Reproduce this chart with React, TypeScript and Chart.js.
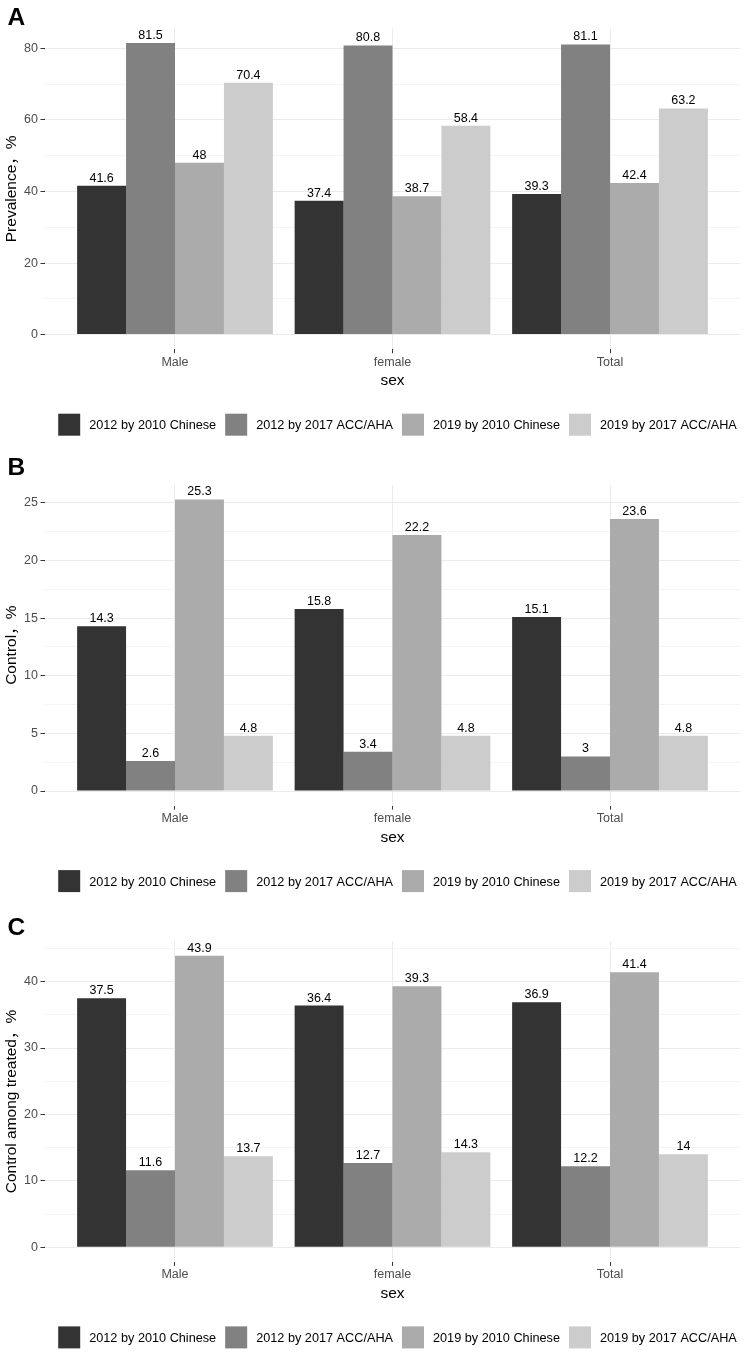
import React, { useEffect, useRef } from 'react';
import { Chart, registerables } from 'chart.js';

Chart.register(...registerables);

// ---------- data ----------
const categories = ['Male', 'female', 'Total'];
const seriesLabels = [
  '2012 by 2010 Chinese',
  '2012 by 2017 ACC/AHA',
  '2019 by 2010 Chinese',
  '2019 by 2017 ACC/AHA',
];

// Panel A: Prevalence
const prevalence2012Chinese = [41.6, 37.4, 39.3];
const prevalence2012AccAha = [81.5, 80.8, 81.1];
const prevalence2019Chinese = [48, 38.7, 42.4];
const prevalence2019AccAha = [70.4, 58.4, 63.2];
const prevalenceTicks = [0, 20, 40, 60, 80];

// Panel B: Control
const control2012Chinese = [14.3, 15.8, 15.1];
const control2012AccAha = [2.6, 3.4, 3];
const control2019Chinese = [25.3, 22.2, 23.6];
const control2019AccAha = [4.8, 4.8, 4.8];
const controlTicks = [0, 5, 10, 15, 20, 25];

// Panel C: Control among treated
const treated2012Chinese = [37.5, 36.4, 36.9];
const treated2012AccAha = [11.6, 12.7, 12.2];
const treated2019Chinese = [43.9, 39.3, 41.4];
const treated2019AccAha = [13.7, 14.3, 14];
const treatedTicks = [0, 10, 20, 30, 40];

const panels = [
  {
    letter: 'A',
    yTitle: 'Prevalence，%',
    series: [prevalence2012Chinese, prevalence2012AccAha, prevalence2019Chinese, prevalence2019AccAha],
    ticks: prevalenceTicks,
  },
  {
    letter: 'B',
    yTitle: 'Control，%',
    series: [control2012Chinese, control2012AccAha, control2019Chinese, control2019AccAha],
    ticks: controlTicks,
  },
  {
    letter: 'C',
    yTitle: 'Control among treated，%',
    series: [treated2012Chinese, treated2012AccAha, treated2019Chinese, treated2019AccAha],
    ticks: treatedTicks,
  },
];

// ---------- styling / layout ----------
const COLORS = ['#333333', '#818181', '#ABABAB', '#CCCCCC'];
const FAMILY = "'Liberation Sans', Arial, Helvetica, sans-serif";
const TITLE_FAMILY = "'Liberation Sans', Arial, 'Noto Sans CJK SC', sans-serif";
const CANVAS_H = 440;
const PLOT_H = 320.8;
const X_AXIS_H = 42;
const layouts = [
  { canvasTop: 0, padTop: 28.4, letterBaseline: 25 },
  { canvasTop: 457, padTop: 27.8, letterBaseline: 18 },
  { canvasTop: 913, padTop: 28.1, letterBaseline: 22 },
];

function Panel({ cfg, layout }: { cfg: any; layout: any }) {
  const ref = useRef<HTMLCanvasElement>(null);

  useEffect(() => {
    if (!ref.current) return;
    const all: number[] = ([] as number[]).concat(...cfg.series);
    const maxVal = Math.max(...all);
    const yMin = -0.05 * maxVal;
    const yMax = 1.05 * maxVal;
    const major = cfg.ticks[1] - cfg.ticks[0];
    const minor = major / 2;
    const isMajor = (v: number) => Math.abs(v / major - Math.round(v / major)) < 1e-6;

    const overlay = {
      id: 'overlay' + cfg.letter,
      afterDatasetsDraw(chart: any) {
        const ctx = chart.ctx;
        ctx.save();
        ctx.font = `12.5px ${FAMILY}`;
        ctx.fillStyle = '#000000';
        ctx.textAlign = 'center';
        ctx.textBaseline = 'alphabetic';
        chart.data.datasets.forEach((ds: any, di: number) => {
          const meta = chart.getDatasetMeta(di);
          meta.data.forEach((el: any, i: number) => {
            ctx.fillText(String(ds.data[i]), el.x, el.y - 4);
          });
        });
        ctx.restore();
      },
      afterDraw(chart: any) {
        const ctx = chart.ctx;
        const ca = chart.chartArea;
        ctx.save();
        // panel letter
        ctx.font = `bold 24.5px ${FAMILY}`;
        ctx.fillStyle = '#000000';
        ctx.textAlign = 'left';
        ctx.textBaseline = 'alphabetic';
        ctx.fillText(cfg.letter, 7.5, layout.letterBaseline);
        // legend
        ctx.font = `12.7px ${FAMILY}`;
        const box = 22;
        const gap = 9;
        const sep = 9;
        const items = chart.data.datasets.map((ds: any) => ({
          text: ds.label,
          color: ds.backgroundColor,
          w: ctx.measureText(ds.label).width,
        }));
        const total =
          items.reduce((s: number, it: any) => s + box + gap + it.w, 0) + sep * (items.length - 1);
        let x = (ca.left + ca.right) / 2 + 5 - total / 2;
        const top = ca.bottom + 64.5;
        items.forEach((it: any) => {
          ctx.fillStyle = it.color;
          ctx.fillRect(x, top, box, box);
          ctx.fillStyle = '#000000';
          ctx.textBaseline = 'middle';
          ctx.fillText(it.text, x + box + gap, top + box / 2 + 1);
          x += box + gap + it.w + sep;
        });
        ctx.restore();
      },
    };

    const chart = new Chart(ref.current, {
      type: 'bar',
      data: {
        labels: categories,
        datasets: seriesLabels.map((label, i) => ({
          label,
          data: cfg.series[i],
          backgroundColor: COLORS[i],
          borderWidth: 0,
          categoryPercentage: 0.9,
          barPercentage: 1,
        })),
      },
      options: {
        animation: false,
        responsive: true,
        maintainAspectRatio: false,
        layout: {
          padding: {
            top: layout.padTop,
            right: 5.5,
            left: 0,
            bottom: CANVAS_H - layout.padTop - PLOT_H - X_AXIS_H,
          },
        },
        plugins: {
          legend: { display: false },
          tooltip: { enabled: false },
          title: { display: false },
        },
        scales: {
          x: {
            type: 'category',
            offset: true,
            afterBuildTicks: (s: any) => {
              s._startValue = -0.6;
              s._valueRange = categories.length + 0.2;
            },
            afterFit: (s: any) => {
              s.height = X_AXIS_H;
            },
            border: { display: false },
            grid: {
              offset: false,
              color: '#EBEBEB',
              lineWidth: 1,
              tickColor: '#333333',
              tickLength: 4,
              tickWidth: 1,
            },
            ticks: {
              color: '#4D4D4D',
              font: { family: FAMILY, size: 12.5 },
              padding: 1.5,
              maxRotation: 0,
              autoSkip: false,
            },
            title: {
              display: true,
              text: 'sex',
              color: '#000000',
              font: { family: FAMILY, size: 15.5 },
              padding: { top: 0, bottom: 0.7 },
            },
          },
          y: {
            type: 'linear',
            min: yMin,
            max: yMax,
            afterBuildTicks: (s: any) => {
              const t: any[] = [];
              for (let i = 0; i * minor <= yMax + 1e-9; i++) t.push({ value: i * minor });
              s.ticks = t;
            },
            afterFit: (s: any) => {
              s.width = 44.5;
            },
            border: { display: false },
            grid: {
              color: (c: any) => (c.tick && !isMajor(c.tick.value) ? '#F5F5F5' : '#EBEBEB'),
              tickColor: (c: any) =>
                c.tick && !isMajor(c.tick.value) ? 'rgba(0,0,0,0)' : '#333333',
              lineWidth: 1,
              tickLength: 4,
              tickWidth: 1,
            },
            ticks: {
              callback: (v: any) => (isMajor(Number(v)) ? String(v) : ''),
              color: '#4D4D4D',
              font: { family: FAMILY, size: 12.5 },
              padding: 2.5,
              autoSkip: false,
            },
            title: {
              display: true,
              text: cfg.yTitle,
              color: '#000000',
              font: { family: TITLE_FAMILY, size: 15.5 },
              padding: { top: 2, bottom: 0 },
            },
          },
        },
      } as any,
      plugins: [overlay],
    });
    return () => chart.destroy();
  }, []);

  return (
    <div
      style={{
        position: 'absolute',
        left: 0,
        top: layout.canvasTop,
        width: 746,
        height: CANVAS_H,
      }}
    >
      <canvas ref={ref} />
    </div>
  );
}

export default function App() {
  return (
    <div
      style={{
        position: 'absolute',
        left: 0,
        top: 0,
        width: 746,
        height: 1353,
        background: '#ffffff',
        overflow: 'hidden',
      }}
    >
      {panels.map((p, i) => (
        <Panel key={p.letter} cfg={p} layout={layouts[i]} />
      ))}
    </div>
  );
}
